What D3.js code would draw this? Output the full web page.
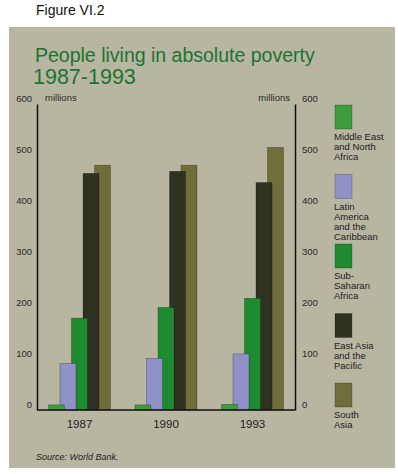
<!DOCTYPE html>
<html>
<head>
<meta charset="utf-8">
<script src="https://cdn.jsdelivr.net/npm/d3@7"></script>
<style>
  body { margin: 0; background: #fff; }
  svg { display: block; font-family: "Liberation Sans", Arial, sans-serif; }
</style>
</head>
<body>
<svg width="398" height="474"></svg>
<script>
// values in millions
var years = ["1987", "1990", "1993"];
var regions = ["Middle East and North Africa", "Latin America and the Caribbean",
  "Sub-Saharan Africa", "East Asia and the Pacific", "South Asia"];
var legendLines = [
  ["Middle East", "and North", "Africa"],
  ["Latin", "America", "and the", "Caribbean"],
  ["Sub-", "Saharan", "Africa"],
  ["East Asia", "and the", "Pacific"],
  ["South", "Asia"]
];
var mena = [10, 10, 11];
var latin = [91, 101, 110];
var ssa = [180, 201, 219];
var eastAsia = [464, 468, 446];
var southAsia = [480, 480, 515];
var yTicks = [0, 100, 200, 300, 400, 500, 600];

var series = [mena, latin, ssa, eastAsia, southAsia];
var colors = ["#3c9d3c", "#9191c9", "#1f8b30", "#2e3221", "#6f6d39"];

var svg = d3.select("svg");

// page furniture
svg.append("text")
    .attr("x", 36).attr("y", 15)
    .attr("font-size", 14).attr("fill", "#111")
    .text("Figure VI.2");

svg.append("rect")
    .attr("x", 9).attr("y", 27)
    .attr("width", 386).attr("height", 441)
    .attr("fill", "#b8b5a1");

svg.append("text")
    .attr("x", 35).attr("y", 62)
    .attr("font-size", 19.5).attr("fill", "#1b7432")
    .text("People living in absolute poverty");
svg.append("text")
    .attr("x", 33).attr("y", 84)
    .attr("font-size", 21.5).attr("fill", "#1b7432")
    .text("1987-1993");

var x0 = 37, x1 = 295;
var x = d3.scaleBand()
    .domain(years)
    .range([x0, x1])
    .paddingInner(0.283)
    .paddingOuter(0.133);

var barW = 16;
var xs = d3.scalePoint()
    .domain(d3.range(regions.length))
    .range([0, x.bandwidth() - barW]);

var y = d3.scaleLinear()
    .domain([0, 600])
    .range([410, 104]);

// bars: back (South Asia) first so left bars sit in front
for (var s = series.length - 1; s >= 0; s--) {
  svg.append("g")
    .selectAll("rect")
    .data(series[s])
    .join("rect")
      .attr("x", function(d, i) { return x(years[i]) + xs(s); })
      .attr("y", function(d) { return y(d); })
      .attr("width", barW)
      .attr("height", function(d) { return y(0) - y(d); })
      .attr("fill", colors[s])
      .attr("stroke", "rgba(20,20,20,0.45)")
      .attr("stroke-width", 0.6);
}

// axes
var left = svg.append("g")
    .attr("transform", "translate(" + x0 + ",0)")
    .call(d3.axisLeft(y).tickValues(yTicks).tickSize(0).tickSizeOuter(0).tickPadding(5));
var right = svg.append("g")
    .attr("transform", "translate(" + x1 + ",0)")
    .call(d3.axisRight(y).tickValues(yTicks).tickSize(0).tickSizeOuter(0).tickPadding(7));

[left, right].forEach(function(g) {
  g.select(".domain").attr("stroke", "#111").attr("stroke-width", 1.5);
  g.selectAll("text")
    .attr("font-family", "Liberation Sans, Arial, sans-serif")
    .attr("font-size", 9.5)
    .attr("fill", "#2a2a2a")
    .attr("y", -6);
});

svg.append("line")
    .attr("x1", x0).attr("x2", x1)
    .attr("y1", y(0)).attr("y2", y(0))
    .attr("stroke", "#111").attr("stroke-width", 1.5);

svg.append("text")
    .attr("x", 45).attr("y", 101)
    .attr("font-size", 9.5).attr("fill", "#2a2a2a")
    .text("millions");
svg.append("text")
    .attr("x", 290).attr("y", 101)
    .attr("text-anchor", "end")
    .attr("font-size", 9.5).attr("fill", "#2a2a2a")
    .text("millions");

// year labels
svg.append("g")
  .selectAll("text")
  .data(years)
  .join("text")
    .attr("x", function(d) { return x(d) + x.bandwidth() / 2; })
    .attr("y", 428)
    .attr("text-anchor", "middle")
    .attr("font-size", 11.5)
    .attr("fill", "#222")
    .text(function(d) { return d; });

// legend
var legend = svg.append("g")
  .selectAll("g")
  .data(regions)
  .join("g")
    .attr("transform", function(d, i) { return "translate(335," + (105 + i * 69.5) + ")"; });

legend.append("rect")
    .attr("width", 17).attr("height", 24)
    .attr("fill", function(d, i) { return colors[i]; })
    .attr("stroke", "rgba(20,20,20,0.4)")
    .attr("stroke-width", 0.6);

legend.append("text")
    .attr("font-size", 9.5)
    .attr("fill", "#222")
    .selectAll("tspan")
    .data(function(d, i) { return legendLines[i]; })
    .join("tspan")
      .attr("x", -1)
      .attr("y", function(d, j) { return 35 + j * 10; })
      .text(function(d) { return d; });

svg.append("text")
    .attr("x", 36).attr("y", 460)
    .attr("font-size", 9)
    .attr("font-style", "italic")
    .attr("fill", "#222")
    .text("Source: World Bank.");
</script>
</body>
</html>
